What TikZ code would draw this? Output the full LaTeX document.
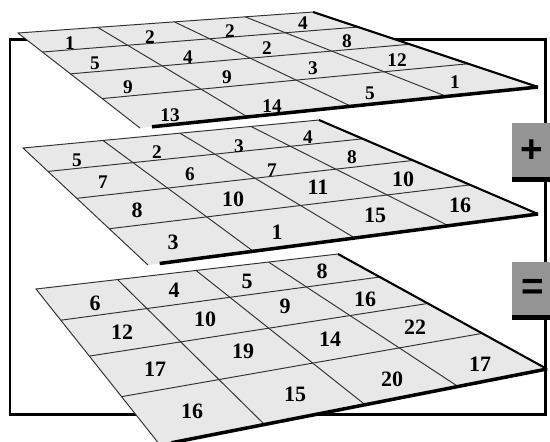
\documentclass[tikz,border=0pt]{standalone}
\usepackage{fontspec}
\setmainfont{Liberation Serif}
\newfontfamily\signfont{Liberation Sans}
\usetikzlibrary{calc}

\begin{document}
\begin{tikzpicture}[x=0.02cm, y=-0.02cm,
  frame/.style={line width=1.7pt},
  grid/.style={line width=0.55pt, draw=black!80},
  sideedge/.style={line width=1.2pt},
  frontedge/.style={line width=2pt},
  num/.style={font=\fontsize{11}{11}\selectfont\bfseries, inner sep=0pt},
  bignum/.style={font=\fontsize{12.5}{12.5}\selectfont\bfseries, inner sep=0pt},
  signbox/.style={fill=black!42},
  sign/.style={font=\signfont\fontsize{22}{22}\selectfont\bfseries, inner sep=0pt}]
  \clip (0,0) rectangle (550,441);

  % frame behind the layers
  \coordinate (f-tl) at (10,39);
  \coordinate (f-br) at (545,414);
  \draw[frame] (f-tl) rectangle (f-br);

  % layer corners
  \coordinate (bot-bl) at (36,289);
  \coordinate (bot-br) at (338,254);
  \coordinate (bot-fr) at (547,369);
  \coordinate (bot-fl) at (160,445);
  \coordinate (mid-bl) at (23,148);
  \coordinate (mid-br) at (319,120);
  \coordinate (mid-fr) at (538,214);
  \coordinate (mid-fl) at (148,265);
  \coordinate (top-bl) at (18,33);
  \coordinate (top-br) at (313,12);
  \coordinate (top-fr) at (538,87);
  \coordinate (top-fl) at (140,128);

  \foreach \l in {bot,mid,top}{
    \fill[black!9] (\l-bl) -- (\l-br) -- (\l-fr) -- (\l-fl) -- cycle;
    \foreach \t in {0.2,0.43,0.69}
      \draw[grid] ($(\l-bl)!\t!(\l-fl)$) -- ($(\l-br)!\t!(\l-fr)$);
    \foreach \s in {0.27,0.53,0.77}
      \draw[grid] ($(\l-bl)!\s!(\l-br)$) -- ($(\l-fl)!\s!(\l-fr)$);
    \draw[grid] (\l-fl) -- (\l-bl) -- (\l-br);
    \draw[sideedge] (\l-br) -- (\l-fr);
    \draw[frontedge] ($(\l-fl)!0.03!(\l-fr)$) -- (\l-fr);
  }

  % top layer
  \node[num] (t11) at (70,43) {1};
  \node[num] (t12) at (150,37) {2};
  \node[num] (t13) at (230,31) {2};
  \node[num] (t14) at (303,23) {4};
  \node[num] (t21) at (95,63) {5};
  \node[num] (t22) at (188,57) {4};
  \node[num] (t23) at (267,48) {2};
  \node[num] (t24) at (347,41) {8};
  \node[num] (t31) at (128,87) {9};
  \node[num] (t32) at (227,77) {9};
  \node[num] (t33) at (313,68) {3};
  \node[num] (t34) at (397,60) {12};
  \node[num] (t41) at (170,115) {13};
  \node[num] (t42) at (272,106) {14};
  \node[num] (t43) at (370,93) {5};
  \node[num] (t44) at (455,82) {1};

  % middle layer
  \node[num] (m11) at (77,160) {5};
  \node[num] (m12) at (157,152) {2};
  \node[num] (m13) at (239,146) {3};
  \node[num] (m14) at (308,137) {4};
  \node[num] (m21) at (103,182) {7};
  \node[num] (m22) at (190,174) {6};
  \node[num] (m23) at (272,170) {7};
  \node[num] (m24) at (352,157) {8};
  \node[bignum] (m31) at (137,210) {8};
  \node[bignum] (m32) at (233,199) {10};
  \node[bignum] (m33) at (318,187) {11};
  \node[bignum] (m34) at (403,179) {10};
  \node[bignum] (m41) at (173,242) {3};
  \node[bignum] (m42) at (277,232) {1};
  \node[bignum] (m43) at (375,215) {15};
  \node[bignum] (m44) at (460,205) {16};

  % bottom layer
  \node[bignum] (b11) at (95,303) {6};
  \node[bignum] (b12) at (174,290) {4};
  \node[bignum] (b13) at (247,281) {5};
  \node[bignum] (b14) at (322,271) {8};
  \node[bignum] (b21) at (122,332) {12};
  \node[bignum] (b22) at (205,319) {10};
  \node[bignum] (b23) at (285,306) {9};
  \node[bignum] (b24) at (365,299) {16};
  \node[bignum] (b31) at (155,369) {17};
  \node[bignum] (b32) at (243,351) {19};
  \node[bignum] (b33) at (330,339) {14};
  \node[bignum] (b34) at (415,327) {22};
  \node[bignum] (b41) at (192,411) {16};
  \node[bignum] (b42) at (295,394) {15};
  \node[bignum] (b43) at (392,379) {20};
  \node[bignum] (b44) at (480,364) {17};

  % operator boxes on the right side of the frame
  \fill[signbox] (512,123) rectangle (560,177);
  \fill (512,177) rectangle (560,182);
  \node[sign] (plus) at (532,151) {+};
  \fill[signbox] (512,262) rectangle (560,315);
  \fill (512,315) rectangle (560,320);
  \node[sign] (equals) at (533,289) {=};
\end{tikzpicture}
\end{document}
